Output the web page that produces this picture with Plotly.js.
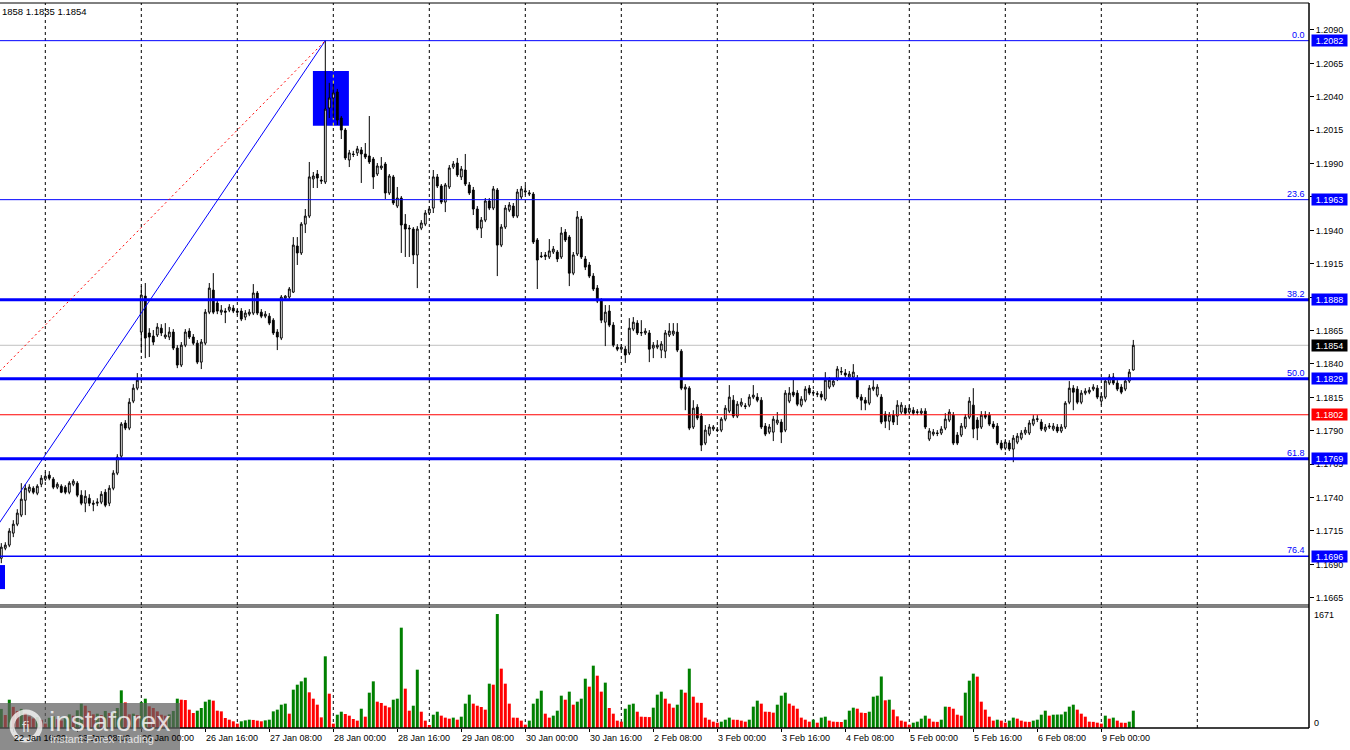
<!DOCTYPE html>
<html>
<head>
<meta charset="utf-8">
<script src="https://cdn.plot.ly/plotly-3.0.1.min.js"></script>
<style>html,body{margin:0;padding:0;background:#fff;}#chart{width:1350px;height:750px;}</style>
</head>
<body>
<div id="chart"></div>
<script>
// EURUSD H1 candles (bar 0 = 22 Jan 13:00 ... bar 283 = 9 Feb 08:00)
const open = [
1.16946,1.17021,1.17044,1.17134,1.17201,1.17269,1.17380,1.17448,1.17470,1.17433,
1.17500,1.17538,1.17568,1.17538,1.17478,1.17485,1.17478,1.17440,1.17500,1.17508,
1.17418,1.17358,1.17395,1.17358,1.17358,1.17366,1.17440,1.17358,1.17470,1.17583,
1.17710,1.17958,1.17920,1.18122,1.18219,1.18639,1.18908,1.18632,1.18609,1.18617,
1.18668,1.18602,1.18602,1.18639,1.18519,1.18392,1.18541,1.18646,1.18602,1.18556,
1.18414,1.18556,1.18788,1.18953,1.18856,1.18788,1.18796,1.18803,1.18818,1.18796,
1.18796,1.18751,1.18773,1.18781,1.18931,1.18788,1.18758,1.18758,1.18728,1.18639,
1.18594,1.18893,1.18901,1.18938,1.19283,1.19231,1.19447,1.19507,1.19785,1.19822,
1.19777,1.19762,1.20316,1.20391,1.20436,1.20241,1.20151,1.19927,1.19972,1.19980,
1.20002,1.19972,1.19957,1.19934,1.19822,1.19867,1.19897,1.19680,1.19800,1.19582,
1.19642,1.19447,1.19417,1.19410,1.19216,1.19417,1.19447,1.19530,1.19567,1.19800,
1.19732,1.19612,1.19725,1.19874,1.19904,1.19800,1.19852,1.19740,1.19702,1.19560,
1.19417,1.19477,1.19620,1.19567,1.19702,1.19290,1.19425,1.19552,1.19582,1.19507,
1.19650,1.19687,1.19672,1.19672,1.19328,1.19208,1.19204,1.19201,1.19238,1.19238,
1.19201,1.19387,1.19350,1.19080,1.19223,1.19485,1.19186,1.19141,1.19058,1.18968,
1.18871,1.18713,1.18796,1.18691,1.18526,1.18511,1.18511,1.18482,1.18661,1.18706,
1.18632,1.18632,1.18632,1.18519,1.18526,1.18504,1.18496,1.18617,1.18624,1.18639,
1.18496,1.18212,1.18219,1.17928,1.18077,1.18010,1.17808,1.17875,1.17913,1.17907,
1.17905,1.17987,1.18047,1.18129,1.18010,1.18092,1.18087,1.18092,1.18152,1.18152,
1.18129,1.17935,1.17890,1.17890,1.17958,1.17965,1.17905,1.18122,1.18189,1.18182,
1.18092,1.18129,1.18219,1.18182,1.18178,1.18174,1.18137,1.18227,1.18242,1.18287,
1.18339,1.18332,1.18302,1.18302,1.18294,1.18152,1.18129,1.18107,1.18212,1.18167,
1.18152,1.18025,1.17972,1.18017,1.18010,1.18040,1.18069,1.18040,1.18054,1.18042,
1.18032,1.18047,1.17838,1.17875,1.17884,1.17883,1.17920,1.17980,1.18017,1.17868,
1.17868,1.17928,1.18002,1.18092,1.17980,1.17928,1.18017,1.18017,1.17950,1.17935,
1.17808,1.17770,1.17808,1.17763,1.17815,1.17845,1.17883,1.17883,1.17950,1.17985,
1.17965,1.17905,1.17928,1.17913,1.17928,1.17898,1.17928,1.18114,1.18219,1.18212,
1.18114,1.18182,1.18189,1.18212,1.18219,1.18122,1.18152,1.18257,1.18302,1.18257,
1.18227,1.18212,1.18272,1.18355
];
const high = [
1.17059,1.17066,1.17171,1.17231,1.17313,1.17508,1.17500,1.17500,1.17485,1.17500,
1.17568,1.17590,1.17598,1.17553,1.17515,1.17500,1.17493,1.17523,1.17538,1.17523,
1.17455,1.17455,1.17425,1.17380,1.17395,1.17448,1.17463,1.17493,1.17605,1.17725,
1.17965,1.17980,1.18144,1.18249,1.18332,1.18983,1.19006,1.18668,1.18654,1.18706,
1.18698,1.18706,1.18676,1.18661,1.18541,1.18564,1.18661,1.18668,1.18624,1.18579,
1.18587,1.18811,1.19006,1.19080,1.18885,1.18841,1.18818,1.18848,1.18841,1.18811,
1.18818,1.18803,1.18811,1.18998,1.18946,1.18811,1.18796,1.18781,1.18743,1.18661,
1.18916,1.18916,1.18976,1.19350,1.19350,1.19462,1.19560,1.19912,1.19837,1.19852,
1.19807,1.20820,1.20504,1.20496,1.20459,1.20256,1.20166,1.20002,1.19995,1.20032,
1.20024,1.20054,1.20256,1.19949,1.19904,1.19949,1.19912,1.19822,1.19815,1.19725,
1.19657,1.19522,1.19440,1.19425,1.19432,1.19477,1.19552,1.19582,1.19852,1.19822,
1.19747,1.19755,1.19889,1.19919,1.19942,1.19882,1.19972,1.19762,1.19725,1.19582,
1.19500,1.19642,1.19642,1.19732,1.19717,1.19447,1.19590,1.19612,1.19605,1.19710,
1.19732,1.19740,1.19702,1.19687,1.19343,1.19238,1.19238,1.19335,1.19283,1.19253,
1.19425,1.19410,1.19365,1.19238,1.19545,1.19507,1.19208,1.19163,1.19080,1.18991,
1.18893,1.18841,1.18841,1.18713,1.18549,1.18549,1.18534,1.18743,1.18751,1.18728,
1.18728,1.18668,1.18654,1.18564,1.18579,1.18571,1.18654,1.18706,1.18706,1.18706,
1.18511,1.18249,1.18234,1.18129,1.18099,1.18032,1.17943,1.17950,1.17943,1.17928,
1.18002,1.18092,1.18242,1.18167,1.18122,1.18144,1.18107,1.18174,1.18242,1.18182,
1.18152,1.17958,1.17950,1.18010,1.18040,1.17987,1.18204,1.18227,1.18294,1.18204,
1.18159,1.18234,1.18242,1.18204,1.18197,1.18197,1.18339,1.18302,1.18294,1.18384,
1.18377,1.18362,1.18347,1.18399,1.18317,1.18174,1.18152,1.18242,1.18279,1.18249,
1.18174,1.18047,1.18040,1.18054,1.18129,1.18114,1.18092,1.18092,1.18077,1.18062,
1.18069,1.18069,1.17920,1.17913,1.17905,1.17935,1.18032,1.18062,1.18040,1.17890,
1.17958,1.18025,1.18152,1.18219,1.18002,1.18047,1.18047,1.18040,1.17972,1.17958,
1.17830,1.17838,1.17830,1.17868,1.17883,1.17905,1.17928,1.17980,1.18017,1.18017,
1.17987,1.17950,1.17958,1.17958,1.17950,1.17950,1.18122,1.18272,1.18242,1.18234,
1.18204,1.18219,1.18227,1.18249,1.18242,1.18182,1.18294,1.18324,1.18332,1.18279,
1.18249,1.18294,1.18362,1.18580
];
const low = [
1.16909,1.17006,1.17029,1.17104,1.17186,1.17254,1.17269,1.17433,1.17425,1.17418,
1.17478,1.17523,1.17530,1.17463,1.17463,1.17433,1.17425,1.17425,1.17485,1.17403,
1.17343,1.17291,1.17336,1.17298,1.17336,1.17351,1.17328,1.17336,1.17455,1.17568,
1.17695,1.17905,1.17905,1.18107,1.18204,1.18489,1.18444,1.18452,1.18541,1.18602,
1.18609,1.18587,1.18579,1.18504,1.18369,1.18377,1.18526,1.18587,1.18541,1.18399,
1.18362,1.18541,1.18773,1.18773,1.18773,1.18766,1.18706,1.18788,1.18781,1.18766,
1.18721,1.18728,1.18758,1.18766,1.18766,1.18743,1.18743,1.18691,1.18617,1.18504,
1.18579,1.18878,1.18885,1.18931,1.19141,1.19216,1.19380,1.19492,1.19717,1.19717,
1.19747,1.19747,1.20241,1.20241,1.20189,1.20084,1.19927,1.19874,1.19949,1.19957,
1.19755,1.19934,1.19897,1.19710,1.19807,1.19852,1.19635,1.19665,1.19590,1.19567,
1.19231,1.19201,1.19201,1.19148,1.18968,1.19402,1.19432,1.19515,1.19530,1.19717,
1.19597,1.19537,1.19710,1.19859,1.19800,1.19777,1.19732,1.19665,1.19515,1.19402,
1.19343,1.19462,1.19552,1.19552,1.19058,1.19275,1.19410,1.19537,1.19492,1.19492,
1.19635,1.19665,1.19657,1.19298,1.18961,1.19193,1.19178,1.19186,1.19223,1.19163,
1.19186,1.19313,1.18983,1.19065,1.19208,1.19186,1.19103,1.19043,1.18946,1.18856,
1.18706,1.18534,1.18676,1.18526,1.18496,1.18504,1.18407,1.18467,1.18646,1.18617,
1.18609,1.18617,1.18414,1.18444,1.18511,1.18444,1.18444,1.18602,1.18609,1.18489,
1.18204,1.18054,1.17905,1.17913,1.17980,1.17748,1.17793,1.17860,1.17898,1.17890,
1.17890,1.17972,1.18032,1.17995,1.17995,1.18077,1.18062,1.18077,1.18137,1.18114,
1.17913,1.17860,1.17875,1.17823,1.17943,1.17808,1.17890,1.18107,1.18152,1.18084,
1.18077,1.18114,1.18167,1.18159,1.18152,1.18129,1.18122,1.18212,1.18227,1.18272,
1.18317,1.18302,1.18287,1.18287,1.18137,1.18054,1.18054,1.18092,1.18197,1.18152,
1.17950,1.17920,1.17905,1.17943,1.17943,1.18025,1.18017,1.18025,1.18017,1.18017,
1.18017,1.17913,1.17823,1.17860,1.17860,1.17868,1.17905,1.17965,1.17793,1.17793,
1.17853,1.17913,1.17987,1.17845,1.17830,1.17913,1.17987,1.17935,1.17913,1.17793,
1.17755,1.17755,1.17748,1.17665,1.17800,1.17830,1.17868,1.17868,1.17935,1.17965,
1.17898,1.17890,1.17913,1.17898,1.17883,1.17883,1.17913,1.18099,1.18054,1.18099,
1.18099,1.18167,1.18174,1.18197,1.18137,1.18092,1.18137,1.18242,1.18242,1.18197,
1.18174,1.18197,1.18257,1.18350
];
const close = [
1.17029,1.17044,1.17149,1.17201,1.17284,1.17388,1.17470,1.17478,1.17440,1.17485,
1.17545,1.17560,1.17545,1.17478,1.17500,1.17440,1.17440,1.17508,1.17523,1.17418,
1.17358,1.17410,1.17358,1.17351,1.17366,1.17425,1.17343,1.17470,1.17583,1.17703,
1.17950,1.17920,1.18114,1.18219,1.18279,1.18916,1.18594,1.18602,1.18564,1.18676,
1.18632,1.18617,1.18639,1.18519,1.18392,1.18541,1.18639,1.18602,1.18556,1.18414,
1.18564,1.18788,1.18968,1.18788,1.18796,1.18803,1.18788,1.18826,1.18796,1.18788,
1.18736,1.18781,1.18788,1.18931,1.18781,1.18758,1.18773,1.18706,1.18632,1.18602,
1.18901,1.18908,1.18961,1.19290,1.19231,1.19447,1.19507,1.19800,1.19807,1.19792,
1.19770,1.20308,1.20391,1.20429,1.20226,1.20151,1.19942,1.19980,1.19968,1.20010,
1.19972,1.19949,1.19912,1.19800,1.19882,1.19882,1.19680,1.19807,1.19605,1.19642,
1.19440,1.19410,1.19412,1.19216,1.19410,1.19455,1.19530,1.19560,1.19800,1.19732,
1.19612,1.19740,1.19867,1.19897,1.19815,1.19859,1.19747,1.19680,1.19560,1.19417,
1.19477,1.19620,1.19567,1.19710,1.19290,1.19425,1.19567,1.19590,1.19507,1.19687,
1.19710,1.19695,1.19680,1.19313,1.19178,1.19204,1.19216,1.19246,1.19260,1.19186,
1.19380,1.19328,1.19080,1.19216,1.19500,1.19201,1.19125,1.19058,1.18961,1.18871,
1.18728,1.18788,1.18691,1.18541,1.18511,1.18526,1.18467,1.18668,1.18713,1.18632,
1.18635,1.18646,1.18511,1.18541,1.18541,1.18549,1.18632,1.18646,1.18646,1.18504,
1.18219,1.18227,1.17920,1.18069,1.17995,1.17793,1.17905,1.17928,1.17928,1.17903,
1.17987,1.18069,1.18152,1.18010,1.18099,1.18114,1.18082,1.18152,1.18167,1.18129,
1.17928,1.17875,1.17928,1.17987,1.17980,1.17890,1.18182,1.18182,1.18167,1.18099,
1.18137,1.18212,1.18182,1.18186,1.18174,1.18152,1.18279,1.18279,1.18272,1.18362,
1.18343,1.18317,1.18324,1.18339,1.18152,1.18129,1.18107,1.18219,1.18227,1.18227,
1.17965,1.17972,1.18017,1.17965,1.18092,1.18092,1.18032,1.18069,1.18032,1.18038,
1.18047,1.17928,1.17898,1.17890,1.17880,1.17913,1.17987,1.18040,1.17808,1.17808,
1.17935,1.18002,1.18122,1.17913,1.17920,1.18017,1.18002,1.17950,1.17928,1.17808,
1.17770,1.17815,1.17763,1.17845,1.17860,1.17883,1.17905,1.17958,1.17987,1.17989,
1.17913,1.17928,1.17935,1.17935,1.17898,1.17928,1.18107,1.18219,1.18189,1.18114,
1.18182,1.18197,1.18204,1.18227,1.18152,1.18159,1.18272,1.18302,1.18257,1.18212,
1.18189,1.18272,1.18339,1.18540
];
const volume = [
280,190,415,310,250,280,220,170,140,160,
120,64,150,170,130,110,150,200,180,260,
357,327,250,200,210,190,250,220,240,293,
552,376,200,210,190,380,430,318,293,244,
195,180,200,250,430,415,410,269,220,254,
293,386,415,401,254,244,147,122,98,64,
98,112,122,118,108,98,112,122,244,269,
342,357,210,562,635,684,738,523,430,342,
156,1051,503,64,195,239,205,181,132,108,
283,166,518,684,386,367,327,303,415,430,
1471,577,254,327,855,239,108,44,195,239,
181,152,137,152,122,166,357,489,357,327,
308,269,650,635,1671,870,650,357,152,150,
108,49,108,357,430,547,210,152,181,254,
474,415,533,342,386,430,723,606,914,767,
533,665,293,210,108,93,283,342,357,239,
166,163,160,298,489,533,430,357,298,342,
562,518,870,459,371,368,152,122,93,78,
93,122,152,122,120,108,93,122,313,401,
357,239,237,225,342,474,518,357,327,283,
152,122,93,122,78,152,166,108,93,90,
88,122,254,298,283,225,220,239,459,474,
755,406,415,269,171,108,93,49,78,93,
137,181,137,93,90,122,313,310,283,195,
181,518,694,797,753,386,269,166,108,122,
108,78,108,152,137,108,93,90,108,122,
195,254,181,195,197,199,239,313,342,269,
210,166,93,90,78,64,181,137,152,108,
78,76,93,254
];
// time-axis labels (every 16 H1 bars)
const timeLabels = ["22 Jan 16:00","23 Jan 08:00","26 Jan 00:00","26 Jan 16:00","27 Jan 08:00","28 Jan 00:00",
  "28 Jan 16:00","29 Jan 08:00","30 Jan 00:00","30 Jan 16:00","2 Feb 08:00","3 Feb 00:00",
  "3 Feb 16:00","4 Feb 08:00","5 Feb 00:00","5 Feb 16:00","6 Feb 08:00","9 Feb 00:00"];
const firstLabelBar = 3, labelStep = 16;
const dayStartBars = [11,35,59,83,107,131,155,179,203,227,251,275,299];
// Fibonacci retracement levels
const fibNames  = ["0.0","23.6","38.2","50.0","61.8","76.4"];
const fibPrices = [1.2082,1.1963,1.1888,1.1829,1.1769,1.1696];
const fibWidths = [1,1,3,3,3,1.5];
const bidPrice = 1.1854;
const supportPrice = 1.1802;
const headerText = "1858 1.1835 1.1854";
const volMaxLabel = 1671;
const brandName = "instaforex";
const brandTag = "Instant Forex Trading";

const FONT = "Liberation Sans, Arial, sans-serif";
const BLUE = "#0000ff";
const n = close.length;
const idx = Array.from({length:n},(_,i)=>i);
const yRange = [1.16596, 1.21102];
const xRange = [-0.325, 326.925];
const volRange = [0, 1774];
const priceDom = [0.16966, 1];
const volDom = [0, 0.1669];

const volColors = volume.map((v,i)=> (i===0 || v>volume[i-1]) ? "#008000" : "#ff0000");

const candles = {
  type:"candlestick", x:idx, open:open, high:high, low:low, close:close,
  xaxis:"x", yaxis:"y",
  increasing:{line:{color:"#000",width:1}, fillcolor:"#ffffff"},
  decreasing:{line:{color:"#000",width:1}, fillcolor:"#000000"},
  whiskerwidth:0, hoverinfo:"skip", showlegend:false
};
const vols = {
  type:"bar", x:idx, y:volume, xaxis:"x2", yaxis:"y2", width:0.75,
  marker:{color:volColors, line:{width:0}}, hoverinfo:"skip", showlegend:false
};

const shapes = [];
// background rectangles
const box1 = {x0:77.9, x1:86.9, y0:1.20184, y1:1.20593};
shapes.push({type:"rect", xref:"x", yref:"y", x0:box1.x0, x1:box1.x1, y0:box1.y0, y1:box1.y1, fillcolor:BLUE, line:{width:0}, layer:"below"});
shapes.push({type:"rect", xref:"x", yref:"y", x0:-0.5, x1:0.925, y0:1.16715, y1:1.16895, fillcolor:BLUE, line:{width:0}, layer:"below"});
// day separators (dashed grid)
const gridLine = {color:"#000", width:1, dash:"3px,3px"};
dayStartBars.forEach(b=>{
  if (b>box1.x0 && b<box1.x1){
    shapes.push({type:"line", xref:"x", yref:"y", x0:b, x1:b, y0:yRange[0], y1:box1.y0, line:gridLine, layer:"below"});
    shapes.push({type:"line", xref:"x", yref:"y", x0:b, x1:b, y0:box1.y1, y1:yRange[1], line:gridLine, layer:"below"});
    shapes.push({type:"line", xref:"x", yref:"y", x0:b, x1:b, y0:box1.y0, y1:box1.y1, line:{color:"#ffff00", width:1, dash:"3px,3px"}, layer:"below"});
  } else {
    shapes.push({type:"line", xref:"x", yref:"y", x0:b, x1:b, y0:yRange[0], y1:yRange[1], line:gridLine, layer:"below"});
  }
  shapes.push({type:"line", xref:"x2", yref:"y2", x0:b, x1:b, y0:volRange[0], y1:volRange[1], line:gridLine, layer:"below"});
});
// horizontal levels
fibPrices.forEach((p,i)=>{
  shapes.push({type:"line", xref:"paper", yref:"y", x0:0, x1:1, y0:p, y1:p, line:{color:BLUE, width:fibWidths[i]}, layer:"above"});
});
shapes.push({type:"line", xref:"paper", yref:"y", x0:0, x1:1, y0:bidPrice, y1:bidPrice, line:{color:"#c0c0c0", width:1}, layer:"below"});
shapes.push({type:"line", xref:"paper", yref:"y", x0:0, x1:1, y0:supportPrice, y1:supportPrice, line:{color:"#ff0000", width:1}, layer:"above"});
// trend line and fib baseline
shapes.push({type:"line", xref:"x", yref:"y", x0:-33, y0:1.1577, x1:81, y1:1.2082, line:{color:BLUE, width:1}, layer:"above"});
shapes.push({type:"line", xref:"x", yref:"y", x0:-0.325, y0:1.18347, x1:81, y1:1.2082, line:{color:"#ff0000", width:1, dash:"2px,3px"}, layer:"above"});
// panel frames
shapes.push({type:"line", xref:"paper", yref:"paper", x0:0, x1:1, y0:1, y1:1, line:{color:"#000", width:1}, layer:"above"});
shapes.push({type:"line", xref:"paper", yref:"paper", x0:0, x1:1, y0:priceDom[0], y1:priceDom[0], line:{color:"#000", width:1}, layer:"above"});
shapes.push({type:"line", xref:"paper", yref:"paper", x0:0, x1:1, y0:volDom[1], y1:volDom[1], line:{color:"#000", width:1}, layer:"above"});
shapes.push({type:"line", xref:"paper", yref:"paper", x0:0, x1:1, y0:0, y1:0, line:{color:"#000", width:1.5}, layer:"above"});
shapes.push({type:"line", xref:"paper", yref:"paper", x0:1, x1:1, y0:0, y1:1, line:{color:"#000", width:1.5}, layer:"above"});
// watermark box and logo ring
shapes.push({type:"rect", xref:"paper", yref:"paper", x0:0, x1:180/1309, y0:-0.0303, y1:0.0345,
  fillcolor:"rgba(95,95,95,0.72)", line:{width:0}, layer:"above"});
shapes.push({type:"circle", xref:"paper", yref:"paper", x0:12/1309, x1:40/1309, y0:(728-740)/725, y1:(728-712)/725,
  fillcolor:"rgba(0,0,0,0)", line:{color:"rgba(255,255,255,0.75)", width:5}, layer:"above"});

const annotations = [];
const boxLabel = (p, bg) => ({xref:"paper", yref:"y", x:1, y:p, xanchor:"left", yanchor:"middle", xshift:2,
  text:p.toFixed(4), showarrow:false, bgcolor:bg, borderpad:0, width:35, height:11,
  font:{family:FONT, size:9, color:"#ffffff"}});
fibPrices.forEach((p,i)=>{
  annotations.push({xref:"paper", yref:"y", x:1, y:p, xanchor:"right", yanchor:"bottom", xshift:-2, yshift:-1,
    text:fibNames[i], showarrow:false, font:{family:FONT, size:9, color:BLUE}});
  annotations.push(boxLabel(p, BLUE));
});
annotations.push(boxLabel(bidPrice, "#000000"));
annotations.push(boxLabel(supportPrice, "#ff0000"));
timeLabels.forEach((t,k)=>{
  annotations.push({xref:"x2", yref:"paper", x:firstLabelBar+k*labelStep, y:-0.0138, xanchor:"left", yanchor:"middle",
    xshift:-1, text:t, showarrow:false, font:{family:FONT, size:9, color:"#000"}});
});
annotations.push({xref:"paper", yref:"paper", x:0, y:0.9885, xanchor:"left", yanchor:"middle", text:headerText,
  showarrow:false, font:{family:FONT, size:9.5, color:"#000"}});
annotations.push({xref:"paper", yref:"paper", x:1, y:0.1559, xanchor:"left", yanchor:"middle", xshift:3, text:String(volMaxLabel),
  showarrow:false, font:{family:FONT, size:9, color:"#000"}});
annotations.push({xref:"paper", yref:"paper", x:1, y:0.0069, xanchor:"left", yanchor:"middle", xshift:3, text:"0",
  showarrow:false, font:{family:FONT, size:9, color:"#000"}});
// watermark texts
annotations.push({xref:"paper", yref:"paper", x:47/1309, y:(728-721)/725, xanchor:"left", yanchor:"middle", text:brandName,
  showarrow:false, font:{family:FONT, size:28, color:"rgba(255,255,255,0.78)"}});
annotations.push({xref:"paper", yref:"paper", x:48/1309, y:(728-739)/725, xanchor:"left", yanchor:"middle", text:brandTag,
  showarrow:false, font:{family:FONT, size:11, color:"rgba(255,255,255,0.78)"}});
annotations.push({xref:"paper", yref:"paper", x:26/1309, y:(728-726)/725, xanchor:"center", yanchor:"middle", text:"fi",
  showarrow:false, font:{family:FONT, size:15, color:"rgba(255,255,255,0.78)"}});

const ptick = [];
for (let v=11665; v<=12090; v+=25) ptick.push(v/10000);

const layout = {
  width:1350, height:750, margin:{l:0, r:41, t:3, b:22, pad:0},
  paper_bgcolor:"#ffffff", plot_bgcolor:"#ffffff",
  showlegend:false, hovermode:false, dragmode:false,
  font:{family:FONT, size:9, color:"#000"},
  boxgap:0.35,
  xaxis:{domain:[0,1], range:xRange, anchor:"y", showgrid:false, zeroline:false, showticklabels:false, ticks:"",
         rangeslider:{visible:false}, fixedrange:true},
  yaxis:{domain:priceDom, range:yRange, side:"right", anchor:"x", showgrid:false, zeroline:false, showline:false,
         tickvals:ptick, ticktext:ptick.map(v=>v.toFixed(4)), ticks:"outside", ticklen:4, tickcolor:"#000", tickwidth:1,
         tickfont:{family:FONT, size:9, color:"#000"}, fixedrange:true},
  xaxis2:{domain:[0,1], range:xRange, anchor:"y2", matches:"x", showgrid:false, zeroline:false, showticklabels:false,
          tickvals:timeLabels.map((t,k)=>firstLabelBar+k*labelStep), ticks:"outside", ticklen:3, tickcolor:"#000", fixedrange:true},
  yaxis2:{domain:volDom, range:volRange, side:"right", anchor:"x2", showgrid:false, zeroline:false, showticklabels:false, ticks:"", fixedrange:true},
  shapes:shapes, annotations:annotations
};
Plotly.newPlot("chart", [vols, candles], layout, {staticPlot:true, displayModeBar:false});
</script>
</body>
</html>
